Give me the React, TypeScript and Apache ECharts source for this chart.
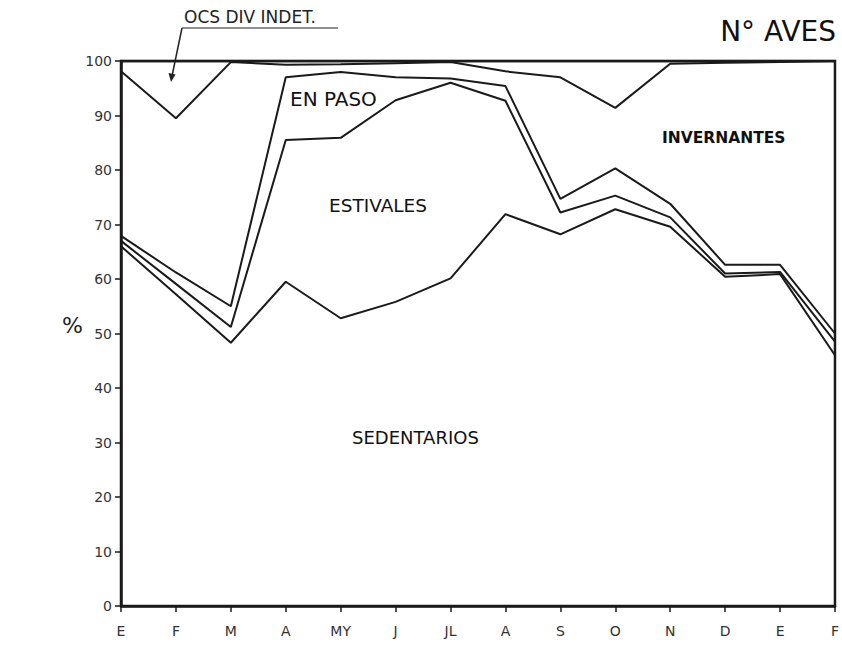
import React, { useEffect, useRef } from "react";
import * as echarts from "echarts";

const months = ["E", "F", "M", "A", "MY", "J", "JL", "A", "S", "O", "N", "D", "E", "F"];
const yTicks = [0, 10, 20, 30, 40, 50, 60, 70, 80, 90, 100];

// cumulative upper boundaries (%)
const sedentarios = [66.0, 57.2, 48.3, 59.5, 52.8, 55.8, 60.1, 71.9, 68.2, 72.8, 69.6, 60.4, 60.9, 46.0];
const estivales = [67.0, 59.1, 51.2, 85.5, 85.9, 92.8, 96.0, 92.7, 72.2, 75.3, 71.3, 61.0, 61.3, 48.5];
const enPaso = [67.9, 61.2, 55.0, 97.0, 98.0, 97.0, 96.8, 95.4, 74.7, 80.3, 73.8, 62.6, 62.6, 50.0];
const invernantes = [98.1, 89.5, 99.8, 99.3, 99.4, 99.6, 99.8, 98.1, 97.0, 91.4, 99.5, 99.7, 99.8, 100.0];
const ocsDivIndet = [100, 100, 100, 100, 100, 100, 100, 100, 100, 100, 100, 100, 100, 100];

const FONT = "DejaVu Sans";
const INK = "#1a1a1a";

export default function App() {
  const ref = useRef<HTMLDivElement>(null);
  useEffect(() => {
    if (!ref.current) return;
    const chart = echarts.init(ref.current, null, { renderer: "svg" });
    const mk = (name: string, data: number[], w = 2) => ({
      name,
      type: "line",
      data,
      symbol: "none",
      lineStyle: { color: INK, width: w },
      z: 3,
    });
    chart.setOption({
      animation: false,
      backgroundColor: "#fff",
      grid: {
        left: 121,
        right: 5,
        top: 61,
        bottom: 40,
        show: true,
        borderColor: INK,
        borderWidth: 2.5,
        backgroundColor: "transparent",
      },
      xAxis: {
        type: "category",
        data: months,
        boundaryGap: false,
        axisLine: { lineStyle: { color: INK, width: 2.5 } },
        axisTick: { show: true, length: 6, lineStyle: { color: INK, width: 1.5 } },
        axisLabel: { color: "#333", fontSize: 14, fontFamily: FONT, margin: 18, interval: 0 },
        splitLine: { show: false },
      },
      yAxis: {
        type: "value",
        min: 0,
        max: 100,
        interval: 10,
        axisLine: { show: true, lineStyle: { color: INK, width: 2.5 } },
        axisTick: { show: true, length: 6, lineStyle: { color: INK, width: 1.5 } },
        axisLabel: {
          color: "#333",
          fontSize: 14,
          fontFamily: FONT,
          margin: 9,
          formatter: (v: number) => (yTicks.includes(v) ? String(v) : ""),
        },
        splitLine: { show: false },
      },
      series: [
        mk("Sedentarios", sedentarios),
        mk("Estivales", estivales),
        mk("En paso", enPaso),
        mk("Invernantes", invernantes),
        mk("Ocs div indet", ocsDivIndet, 2.5),
      ],
      graphic: [
        {
          type: "text",
          style: { x: 184, y: 17, text: "OCS DIV INDET.", fontSize: 17, fontFamily: FONT, fill: "#222", verticalAlign: "middle" },
        },
        { type: "line", shape: { x1: 182, y1: 28, x2: 338, y2: 28 }, style: { stroke: "#222", lineWidth: 1.2 } },
        { type: "line", shape: { x1: 182, y1: 28, x2: 172, y2: 76 }, style: { stroke: "#222", lineWidth: 1.5 } },
        { type: "polygon", shape: { points: [[168.5, 73], [175.5, 74.5], [171, 82]] }, style: { fill: "#222" } },
        {
          type: "text",
          style: { x: 836, y: 31, text: "N° AVES", fontSize: 28, fontFamily: FONT, fill: "#111", align: "right", verticalAlign: "middle" },
        },
        {
          type: "text",
          style: { x: 290, y: 99, text: "EN PASO", fontSize: 20, fontFamily: FONT, fill: "#111", verticalAlign: "middle" },
        },
        {
          type: "text",
          style: { x: 329, y: 205, text: "ESTIVALES", fontSize: 18.5, fontFamily: FONT, fill: "#111", verticalAlign: "middle" },
        },
        {
          type: "text",
          style: { x: 662, y: 138, text: "INVERNANTES", fontSize: 15.5, fontWeight: "bold", fontFamily: FONT, fill: "#111", verticalAlign: "middle" },
        },
        {
          type: "text",
          style: { x: 352, y: 437, text: "SEDENTARIOS", fontSize: 18, fontFamily: FONT, fill: "#111", verticalAlign: "middle" },
        },
        {
          type: "text",
          style: { x: 62, y: 325, text: "%", fontSize: 22, fontFamily: FONT, fill: "#222", verticalAlign: "middle" },
        },
      ],
    });
    return () => chart.dispose();
  }, []);
  return (
    <div
      ref={ref}
      style={{ position: "absolute", left: 0, top: 0, width: 842, height: 646, background: "#fff" }}
    />
  );
}
